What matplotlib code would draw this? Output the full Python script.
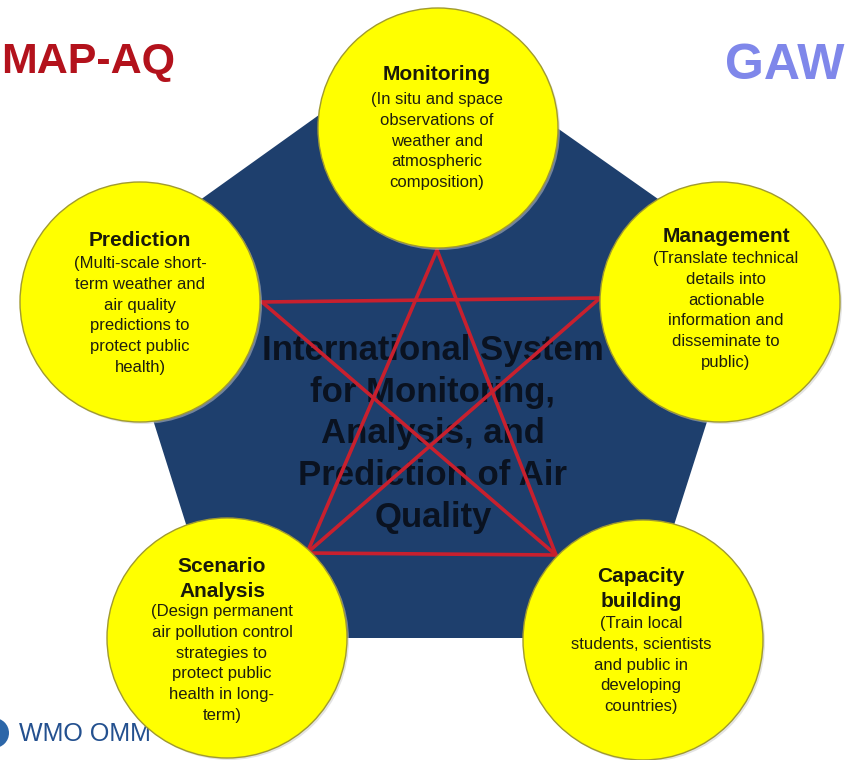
import matplotlib
matplotlib.use('agg')
import matplotlib.pyplot as plt
from matplotlib.patches import Polygon, Circle

# node texts
titles = ["Monitoring", "Prediction", "Management", "Scenario\nAnalysis", "Capacity\nbuilding"]
bodies = [
    "(In situ and space\nobservations of\nweather and\natmospheric\ncomposition)",
    "(Multi-scale short-\nterm weather and\nair quality\npredictions to\nprotect public\nhealth)",
    "(Translate technical\ndetails into\nactionable\ninformation and\ndisseminate to\npublic)",
    "(Design permanent\nair pollution control\nstrategies to\nprotect public\nhealth in long-\nterm)",
    "(Train local\nstudents, scientists\nand public in\ndeveloping\ncountries)",
]
center_text = "International System\nfor Monitoring,\nAnalysis, and\nPrediction of Air\nQuality"
left_tag = "MAP-AQ"
right_tag = "GAW"
logo_text = "WMO OMM"

# layout (pixel coordinates, y down)
circ_xy = [(438, 128), (140, 302), (720, 302), (227, 638), (643, 640)]
circ_r = 120
title_y = [75, 241, 236, 579, 589]
title_x = [437, 140, 726, 222, 641]
body_top = [98, 262, 257, 610, 622]
pent = [(428, 37), (756, 268), (638, 638), (222, 638), (105, 268)]
star = {"T": (437, 250), "L": (262, 302), "R": (600, 298), "BL": (307, 553), "BR": (556, 555)}
star_lines = [("L", "R"), ("BL", "BR"), ("T", "BL"), ("T", "BR"), ("L", "BR"), ("R", "BL")]

plt.rcParams['font.family'] = ['Liberation Sans', 'DejaVu Sans']

fig = plt.figure(figsize=(8.56, 7.60), dpi=100)
ax = fig.add_axes([0, 0, 1, 1])
ax.set_xlim(0, 856)
ax.set_ylim(760, 0)
ax.axis('off')

ax.add_patch(Polygon(pent, closed=True, facecolor='#1e3f6d', edgecolor='none', zorder=1))

ax.text(433, 434, center_text, ha='center', va='center', fontsize=25, fontweight='bold',
        color='#0a1220', linespacing=1.33, zorder=2)

for a, b in star_lines:
    p, q = star[a], star[b]
    ax.plot([p[0], q[0]], [p[1], q[1]], color='#c8202e', lw=2.6, solid_capstyle='round', zorder=3)

# tags
ax.text(1, 62, left_tag, ha='left', va='center', fontsize=31, fontweight='bold', color='#b3121c', zorder=2)
ax.text(845, 66, right_tag, ha='right', va='center', fontsize=36, fontweight='bold', color='#7f87ea', zorder=2)
ax.add_patch(Circle((-6, 733), 15, facecolor='#2c66a8', edgecolor='none', zorder=3))
ax.text(19, 734, logo_text, ha='left', va='center', fontsize=18, color='#23508f', zorder=3)

for i in range(len(titles)):
    cx, cy = circ_xy[i]
    ax.add_patch(Circle((cx + 2, cy + 2), circ_r, facecolor='#c8c8c8', edgecolor='none', alpha=0.5, zorder=4))
    ax.add_patch(Circle((cx, cy), circ_r, facecolor='#ffff00', edgecolor='#a09a30', lw=1.0, zorder=5))
    ax.text(title_x[i], title_y[i], titles[i], ha='center', va='center', fontsize=15, fontweight='bold',
            color='#1a1a0a', linespacing=1.4, zorder=6)
    ax.text(title_x[i], body_top[i] - 6, bodies[i], ha='center', va='top', fontsize=12,
            color='#1f1f0f', linespacing=1.48, zorder=6)

fig.savefig('out.png', dpi=100)
